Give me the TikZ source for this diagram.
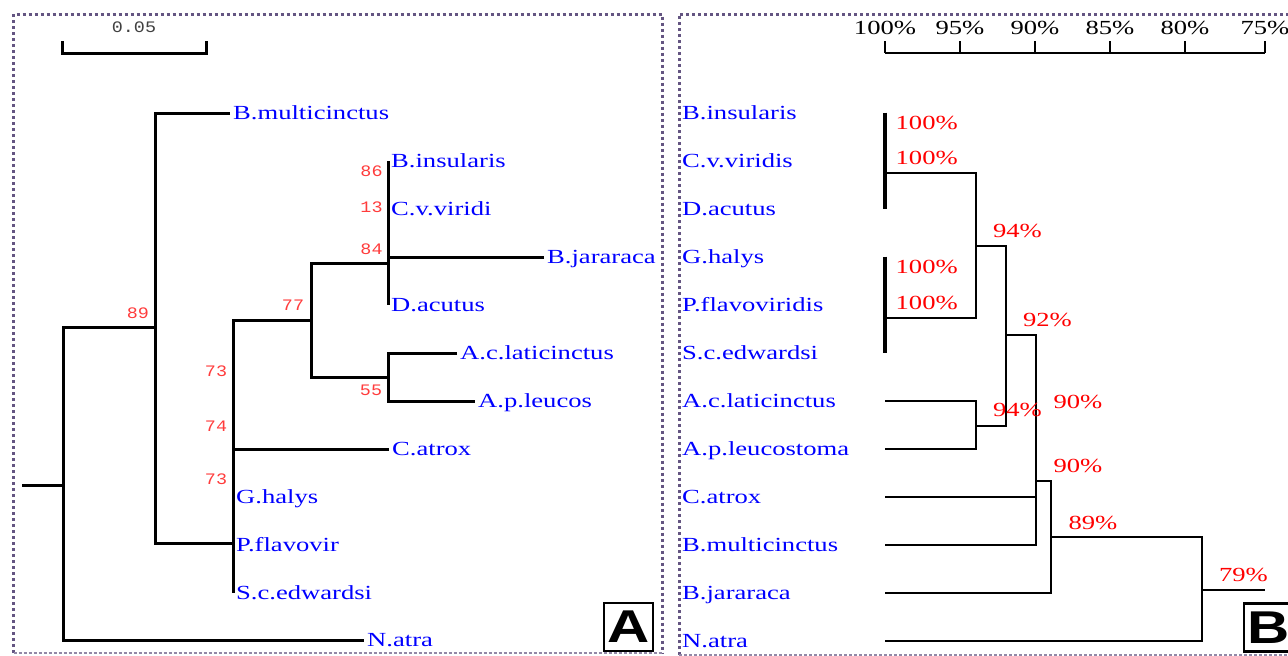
\documentclass[tikz,border=0pt]{standalone}
\usepackage{fontspec}
\setmainfont{Liberation Serif}
\newfontfamily\taxonfont[FakeStretch=1.33]{Liberation Serif}
\newfontfamily\bootfont[FakeStretch=1.15]{Liberation Mono}
\newfontfamily\panelfont[FakeStretch=1.27]{Liberation Sans}
\definecolor{framegray}{RGB}{100,85,130}
\definecolor{bootred}{RGB}{255,60,60}
\begin{document}
\begin{tikzpicture}[
    x=1pt, y=-1pt,
    taxon/.style={anchor=west, inner xsep=3pt, inner ysep=0pt, text height=13pt, text depth=0pt, text=blue, font=\taxonfont\fontsize{20}{24}\selectfont},
    boot/.style={inner sep=0pt, text=bootred, font=\bootfont\fontsize{16}{18}\selectfont},
    pct/.style={inner sep=0pt, text height=13pt, text depth=0pt, text=red, font=\taxonfont\fontsize{20}{24}\selectfont},
    branch/.style={draw, line width=3pt},
    tipline/.style={draw, line width=3.2pt},
    link/.style={draw, line width=2pt},
    panelframe/.style={draw=framegray, line width=3pt, dash pattern=on 3pt off 3pt},
    panelbase/.style={draw=framegray!70, line width=1.3pt, dash pattern=on 3pt off 2pt},
    paneltag/.style={draw, line width=2.5pt, minimum width=49pt, minimum height=48pt, inner sep=0pt, font=\panelfont\bfseries\fontsize{46}{46}\selectfont}
]
\useasboundingbox (0,0) rectangle (1288,656);

\draw[panelframe] (13.5,653) -- (13.5,14) -- (662,14) -- (662,653);
\draw[panelbase] (13.5,653) -- (662,653);
\draw[panelframe] (679,655) -- (679,14) -- (1290,14);
\draw[panelbase] (679,655) -- (1290,655);

% A
\draw[line width=3pt] (62,41) |- (206,53) -- (206,41);
\node[boot, text=black!75] (scale) at (134,27) {0.05};

\coordinate (a0) at (22,485);
\coordinate (a1) at (63,485);
\coordinate (a2) at (155,327);
\coordinate (a3) at (233,543);
\coordinate (a4) at (311,320);
\coordinate (a5) at (388,263);
\coordinate (a6) at (388,377);

\node[taxon] (a-bmul) at (230,113) {B.multicinctus};
\node[taxon] (a-bins) at (388,161) {B.insularis};
\node[taxon] (a-cvir) at (388,209) {C.v.viridi};
\node[taxon] (a-bjar) at (544,257) {B.jararaca};
\node[taxon] (a-dacu) at (388,305) {D.acutus};
\node[taxon] (a-aclat) at (457,353) {A.c.laticinctus};
\node[taxon] (a-apleu) at (475,401) {A.p.leucos};
\node[taxon] (a-catrox) at (389,449) {C.atrox};
\node[taxon] (a-ghal) at (233,497) {G.halys};
\node[taxon] (a-pfla) at (233,545) {P.flavovir};
\node[taxon] (a-sced) at (233,593) {S.c.edwardsi};
\node[taxon] (a-natra) at (364,640) {N.atra};

\draw[branch] (a0) -- (a1);
\draw[branch] (a2) -| (a1) |- (a-natra.west);
\draw[branch] (a-bmul.west) -| (a2) |- (a3);
\draw[branch] (a4) -| (a-sced.west);
\draw[branch] (a-catrox.west) -- (a-catrox.west -| a3);
\draw[branch] (a5) -| (a4) |- (a6);
\draw[branch] (a-bins.west) -- (a-dacu.west);
\draw[branch] (a-bjar.west) -- (a-bjar.west -| a5);
\draw[branch] (a-aclat.west) -| (a6) |- (a-apleu.west);

\node[boot] (a89) at (138,313) {89};
\node[boot] (a77) at (293,305) {77};
\node[boot] (a86) at (371.5,171) {86};
\node[boot] (a13) at (371.5,207) {13};
\node[boot] (a84) at (371.5,249) {84};
\node[boot] (a73) at (216,371) {73};
\node[boot] (a55) at (371,390) {55};
\node[boot] (a74) at (216,426) {74};
\node[boot] (a73b) at (216,479) {73};

\node[paneltag] (tagA) at (628.5,627) {A};

% B
\draw[line width=2.2pt] (885,53) -- (1265,53);
\foreach \x/\p in {885/100,960/95,1035/90,1110/85,1185/80,1265/75} {
    \draw[line width=2.2pt] (\x,41) -- (\x,53);
    \node[pct, text=black] (ax\p) at (\x,28) {\p\%};
}

\coordinate (tB) at (885,53);
\coordinate (c1) at (885,173);
\coordinate (c2) at (885,318);
\coordinate (c3) at (976,246);
\coordinate (c4) at (976,426);
\coordinate (c5) at (1006,335);
\coordinate (c6) at (1036,481);
\coordinate (c7) at (1051,537);
\coordinate (c8) at (1202,590);
\coordinate (rootB) at (1265,590);

\node[taxon] (b-bins) at (679,112.7) {B.insularis};
\node[taxon] (b-cvir) at (679,160.7) {C.v.viridis};
\node[taxon] (b-dacu) at (679,208.7) {D.acutus};
\node[taxon] (b-ghal) at (679,256.7) {G.halys};
\node[taxon] (b-pfla) at (679,304.7) {P.flavoviridis};
\node[taxon] (b-sced) at (679,352.7) {S.c.edwardsi};
\node[taxon] (b-aclat) at (679,400.7) {A.c.laticinctus};
\node[taxon] (b-apleu) at (679,448.7) {A.p.leucostoma};
\node[taxon] (b-catrox) at (679,496.7) {C.atrox};
\node[taxon] (b-bmul) at (679,544.7) {B.multicinctus};
\node[taxon] (b-bjar) at (679,592.7) {B.jararaca};
\node[taxon] (b-natra) at (679,640.7) {N.atra};

\draw[tipline] (b-bins -| tB) -- (b-dacu -| tB);
\draw[tipline] (b-ghal -| tB) -- (b-sced -| tB);
\draw[link] (c1) -| (c3) |- (c2);
\draw[link] (b-aclat -| tB) -| (c4) |- (b-apleu -| tB);
\draw[link] (c3) -| (c5) |- (c4);
\draw[link] (c5) -| (c6) |- (b-bmul -| tB);
\draw[link] (b-catrox -| tB) -- (b-catrox -| c6);
\draw[link] (c6) -| (c7) |- (b-bjar -| tB);
\draw[link] (c7) -| (c8) |- (b-natra -| tB);
\draw[link] (c8) -- (rootB);

\node[pct] (p100a) at (926.7,122.7) {100\%};
\node[pct] (p100b) at (926.7,158.3) {100\%};
\node[pct] (p94a) at (1017.5,230.7) {94\%};
\node[pct] (p100c) at (926.7,266.7) {100\%};
\node[pct] (p100d) at (926.7,302.7) {100\%};
\node[pct] (p92) at (1047.5,320) {92\%};
\node[pct] (p94b) at (1017.5,410) {94\%};
\node[pct] (p90a) at (1078,401.7) {90\%};
\node[pct] (p90b) at (1078,466) {90\%};
\node[pct] (p89) at (1093,522.7) {89\%};
\node[pct] (p79) at (1243.4,575) {79\%};

\node[paneltag] (tagB) at (1268.5,627.5) {B};
\end{tikzpicture}
\end{document}
